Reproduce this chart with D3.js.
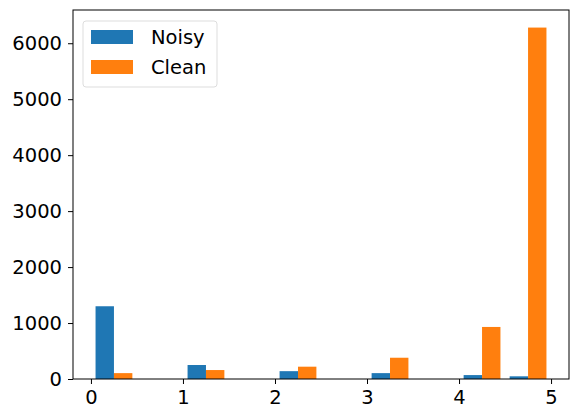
<!DOCTYPE html>
<html>
<head>
<meta charset="utf-8">
<script src="https://cdn.jsdelivr.net/npm/d3@7/dist/d3.min.js"></script>
<style>
  body { margin: 0; background: #fff; }
  text { font-family: "DejaVu Sans", sans-serif; fill: #000; }
</style>
</head>
<body>
<script>
// histogram bins: 10 bins of width 0.5 from 0 to 5
var binEdges = [0, 0.5, 1, 1.5, 2, 2.5, 3, 3.5, 4, 4.5, 5];
var seriesNames = ["Noisy", "Clean"];
var noisy = [1300, 0, 250, 0, 140, 0, 105, 0, 70, 48];
var clean = [105, 0, 160, 0, 220, 0, 380, 0, 930, 6280];
var xTicks = [0, 1, 2, 3, 4, 5];
var yTicks = [0, 1000, 2000, 3000, 4000, 5000, 6000];
var colors = ["#1f77b4", "#ff7f0e"];

var margin = {top: 10, right: 9, bottom: 40, left: 73},
    width = 578 - margin.left - margin.right,
    height = 419 - margin.top - margin.bottom;

var svg = d3.select("body").append("svg")
    .attr("width", 578)
    .attr("height", 419)
  .append("g")
    .attr("transform", "translate(" + margin.left + "," + margin.top + ")");

// matplotlib style: bars take 80% of the bin, split between series
var binW = binEdges[1] - binEdges[0],
    barW = 0.8 * binW / seriesNames.length,
    offset = 0.5 * (binW - 0.8 * binW);

var xmin = binEdges[0] + offset,
    xmax = binEdges[binEdges.length - 1] - offset,
    pad = (xmax - xmin) * 0.05;

var x = d3.scaleLinear().domain([xmin - pad, xmax + pad]).range([0, width]);
var ymax = d3.max(noisy.concat(clean)) * 1.05;
var y = d3.scaleLinear().domain([0, ymax]).range([height, 0]);

var series = [noisy, clean];
series.forEach(function(vals, s) {
  svg.append("g")
    .selectAll("rect")
      .data(vals)
    .enter().append("rect")
      .attr("x", function(d, i) { return x(binEdges[i] + offset + s * barW); })
      .attr("width", function(d, i) { return x(binEdges[i] + offset + (s + 1) * barW) - x(binEdges[i] + offset + s * barW); })
      .attr("y", function(d) { return y(d); })
      .attr("height", function(d) { return height - y(d); })
      .attr("fill", colors[s]);
});

// axes
var xAxis = svg.append("g")
    .attr("transform", "translate(0," + height + ")")
    .call(d3.axisBottom(x).tickValues(xTicks).tickSize(5).tickPadding(6).tickFormat(d3.format("d")));
var yAxis = svg.append("g")
    .call(d3.axisLeft(y).tickValues(yTicks).tickSize(5).tickPadding(6).tickFormat(d3.format("d")));

[xAxis, yAxis].forEach(function(a) {
  a.select(".domain").remove();
  a.selectAll("text").style("font-size", "19.5px").style("font-family", "DejaVu Sans");
  a.selectAll("line").attr("stroke", "#000");
});

// frame
svg.append("rect")
    .attr("width", width)
    .attr("height", height)
    .attr("fill", "none")
    .attr("stroke", "#000")
    .attr("stroke-width", 1);

// legend
var legend = svg.append("g").attr("transform", "translate(10,11)");
legend.append("rect")
    .attr("width", 134)
    .attr("height", 66)
    .attr("rx", 3)
    .attr("fill", "#fff")
    .attr("fill-opacity", 0.8)
    .attr("stroke", "#ddd");
seriesNames.forEach(function(name, i) {
  legend.append("rect")
      .attr("x", 8)
      .attr("y", 9 + i * 30)
      .attr("width", 42)
      .attr("height", 14)
      .attr("fill", colors[i]);
  legend.append("text")
      .attr("x", 68)
      .attr("y", 23 + i * 30)
      .style("font-size", "19.5px")
      .text(name);
});
</script>
</body>
</html>
